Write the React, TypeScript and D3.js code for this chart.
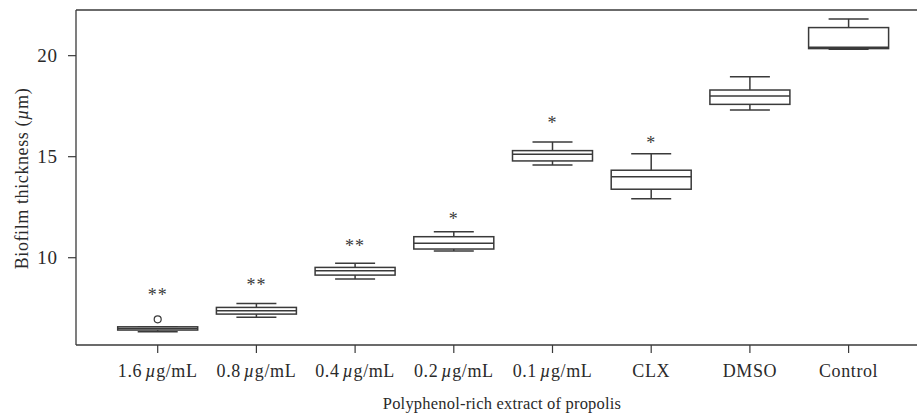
import React from "react";
import * as d3 from "d3";

const categories = ["1.6 µg/mL", "0.8 µg/mL", "0.4 µg/mL", "0.2 µg/mL", "0.1 µg/mL", "CLX", "DMSO", "Control"];
const whiskerLow = [6.34, 7.05, 8.95, 10.33, 14.59, 12.92, 17.31, 20.32];
const q1 = [6.42, 7.21, 9.14, 10.43, 14.79, 13.39, 17.59, 20.35];
const medians = [6.5, 7.38, 9.36, 10.71, 15.12, 14.01, 18.0, 20.42];
const q3 = [6.58, 7.54, 9.52, 11.04, 15.3, 14.33, 18.3, 21.39];
const whiskerHigh = [6.58, 7.74, 9.72, 11.29, 15.73, 15.15, 18.96, 21.82];
const outliers = [[6.95], [], [], [], [], [], [], []];
const starLabels = ["**", "**", "**", "*", "*", "*", "", ""];
const starValues = [8.3, 8.78, 10.73, 12.07, 16.82, 15.83, 0, 0];
const yTicks = [10, 15, 20];

const W = 917;
const H = 419;
const left = 76;
const top = 10;
const bottom = 345;
const right = 917;

export default function App() {
  const y = d3.scaleLinear().domain([5.68, 22.26]).range([bottom, top]);
  const x = d3.scalePoint<string>().domain(categories).range([157.7, 848.6]);
  const boxW = 80;
  const capW = 40;
  const stroke = "#3a3a3a";
  const textFill = "#2a2a2a";
  const font = "'Liberation Serif', 'Times New Roman', serif";

  const label = (c: string) => {
    const m = c.match(/^(\S+) µ(.*)$/);
    if (!m) return c;
    return (
      <>
        {m[1]}
        <tspan dx="3" fontStyle="italic">µ</tspan>
        {m[2]}
      </>
    );
  };

  return (
    <svg width={W} height={H} style={{ position: "absolute", left: 0, top: 0, background: "#fff" }} fontFamily={font}>
      {/* frame */}
      <line x1={left} x2={right} y1={top} y2={top} stroke={stroke} strokeWidth={1.3} />
      <line x1={left} x2={right} y1={bottom} y2={bottom} stroke={stroke} strokeWidth={1.3} />
      <line x1={left} x2={left} y1={top} y2={bottom} stroke={stroke} strokeWidth={1.3} />

      {/* y ticks */}
      {yTicks.map((t) => (
        <g key={t}>
          <line x1={left - 8} x2={left} y1={y(t)} y2={y(t)} stroke={stroke} strokeWidth={1.2} />
          <text x={left - 18.5} y={y(t)} dy="0.35em" textAnchor="end" fontSize={19} letterSpacing={0.6} fill={textFill}>
            {t}
          </text>
        </g>
      ))}
      <text
        transform={`translate(22,178.5) rotate(-90)`}
        textAnchor="middle"
        dy="0.33em"
        fontSize={18}
        letterSpacing={0.6}
        fill={textFill}
      >
        Biofilm thickness (<tspan fontStyle="italic">µ</tspan>m)
      </text>

      {/* x ticks */}
      {categories.map((c) => (
        <g key={c}>
          <line x1={x(c)} x2={x(c)} y1={bottom} y2={bottom + 8} stroke={stroke} strokeWidth={1.2} />
          <text x={x(c)} y={376.7} textAnchor="middle" fontSize={18} letterSpacing={0.6} fill={textFill}>
            {label(c)}
          </text>
        </g>
      ))}
      <text x={502} y={409} textAnchor="middle" fontSize={16.5} letterSpacing={0.2} fill={textFill}>
        Polyphenol-rich extract of propolis
      </text>

      {/* boxes */}
      {categories.map((c, i) => {
        const cx = x(c) as number;
        return (
          <g key={c} stroke={stroke} strokeWidth={1.5} fill="none">
            <line x1={cx} x2={cx} y1={y(whiskerHigh[i])} y2={y(q3[i])} />
            <line x1={cx} x2={cx} y1={y(q1[i])} y2={y(whiskerLow[i])} />
            <line x1={cx - capW / 2} x2={cx + capW / 2} y1={y(whiskerHigh[i])} y2={y(whiskerHigh[i])} />
            <line x1={cx - capW / 2} x2={cx + capW / 2} y1={y(whiskerLow[i])} y2={y(whiskerLow[i])} />
            <rect x={cx - boxW / 2} y={y(q3[i])} width={boxW} height={y(q1[i]) - y(q3[i])} fill="#fff" />
            <line x1={cx - boxW / 2} x2={cx + boxW / 2} y1={y(medians[i])} y2={y(medians[i])} />
            {outliers[i].map((o, k) => (
              <circle key={k} cx={cx} cy={y(o)} r={3.5} strokeWidth={1.2} />
            ))}
            {starLabels[i] && (
              <text
                x={cx}
                y={y(starValues[i]) + 9}
                textAnchor="middle"
                fontSize={18}
                fill="#3a3a3a"
                stroke="none"
                letterSpacing={1}
              >
                {starLabels[i]}
              </text>
            )}
          </g>
        );
      })}
    </svg>
  );
}
